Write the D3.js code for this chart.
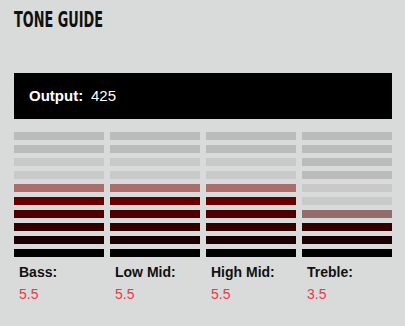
<!doctype html>
<html>
<head>
    <style>
        body { margin: 0; background: #d8dbda; }
        svg { display: block; }
    </style>
    <script src="https://d3js.org/d3.v7.min.js"></script>
</head>
<body>
<svg id="chart" width="405" height="326"></svg>
<script>

    var bands = ["Bass:", "Low Mid:", "High Mid:", "Treble:"];
    var levels = [5.5, 5.5, 5.5, 3.5];
    var outputValue = 425;
    var steps = d3.range(10);   // 0 = bottom bar

    var svg = d3.select("#chart");

    svg.append("rect")
       .attr("width", 405).attr("height", 326)
       .attr("fill", "#d8dbda");

    svg.append("text")
       .attr("x", 14)
       .attr("y", 27)
       .attr("font-family", "DejaVu Sans Condensed, DejaVu Sans, sans-serif")
       .attr("font-weight", "bold")
       .attr("font-size", "21px")
       .attr("textLength", 89)
       .attr("lengthAdjust", "spacingAndGlyphs")
       .attr("fill", "#111")
       .text("TONE GUIDE");

    // output box
    svg.append("rect")
       .attr("x", 14).attr("y", 73)
       .attr("width", 378).attr("height", 46)
       .attr("fill", "#000");

    var out = svg.append("text")
       .attr("x", 29)
       .attr("y", 101)
       .attr("font-family", "Liberation Sans, Arial, sans-serif")
       .attr("font-size", "15px")
       .attr("fill", "#fff");
    out.append("tspan").attr("font-weight", "bold").text("Output:");
    out.append("tspan").attr("x", 91).text(outputValue);

    var x = d3.scaleBand()
              .domain(bands)
              .range([14, 392])
              .paddingInner(6 / 96)
              .paddingOuter(0);

    var y = d3.scaleBand()
              .domain(steps)
              .range([257, 132])
              .paddingInner(5 / 13)
              .paddingOuter(0);

    var litColor = d3.scaleLinear()
                     .domain([0, 10])
                     .range(["#000000", "#ff0000"]);

    var cols = svg.selectAll(".col")
       .data(bands)
       .enter().append("g")
       .attr("class", "col");

    cols.each(function(band, i) {
        var v = levels[i];
        d3.select(this).selectAll("rect")
          .data(steps)
          .enter().append("rect")
          .attr("x", x(band))
          .attr("y", function(k) { return y(k); })
          .attr("width", x.bandwidth())
          .attr("height", y.bandwidth())
          .attr("fill", function(k) {
              if (k < Math.ceil(v)) {
                  return litColor(k);
              }
              return k < Math.ceil(v) + 2 ? "#c8c9c8" : "#bbbbbb";
          })
          .attr("fill-opacity", function(k) {
              return (k < Math.ceil(v) && k + 1 > v) ? 0.5 : 1;
          });
    });

    svg.selectAll(".lbl")
       .data(bands)
       .enter().append("text")
       .attr("class", "lbl")
       .attr("x", function(d) { return x(d) + 5; })
       .attr("y", 277)
       .attr("font-family", "Liberation Sans, Arial, sans-serif")
       .attr("font-weight", "bold")
       .attr("font-size", "14px")
       .attr("fill", "#111")
       .text(function(d) { return d; });

    svg.selectAll(".val")
       .data(bands)
       .enter().append("text")
       .attr("class", "val")
       .attr("x", function(d) { return x(d) + 5; })
       .attr("y", 299)
       .attr("font-family", "Liberation Sans, Arial, sans-serif")
       .attr("font-size", "14px")
       .attr("fill", "#e8394a")
       .text(function(d, i) { return levels[i]; });
</script>
</body>
</html>
